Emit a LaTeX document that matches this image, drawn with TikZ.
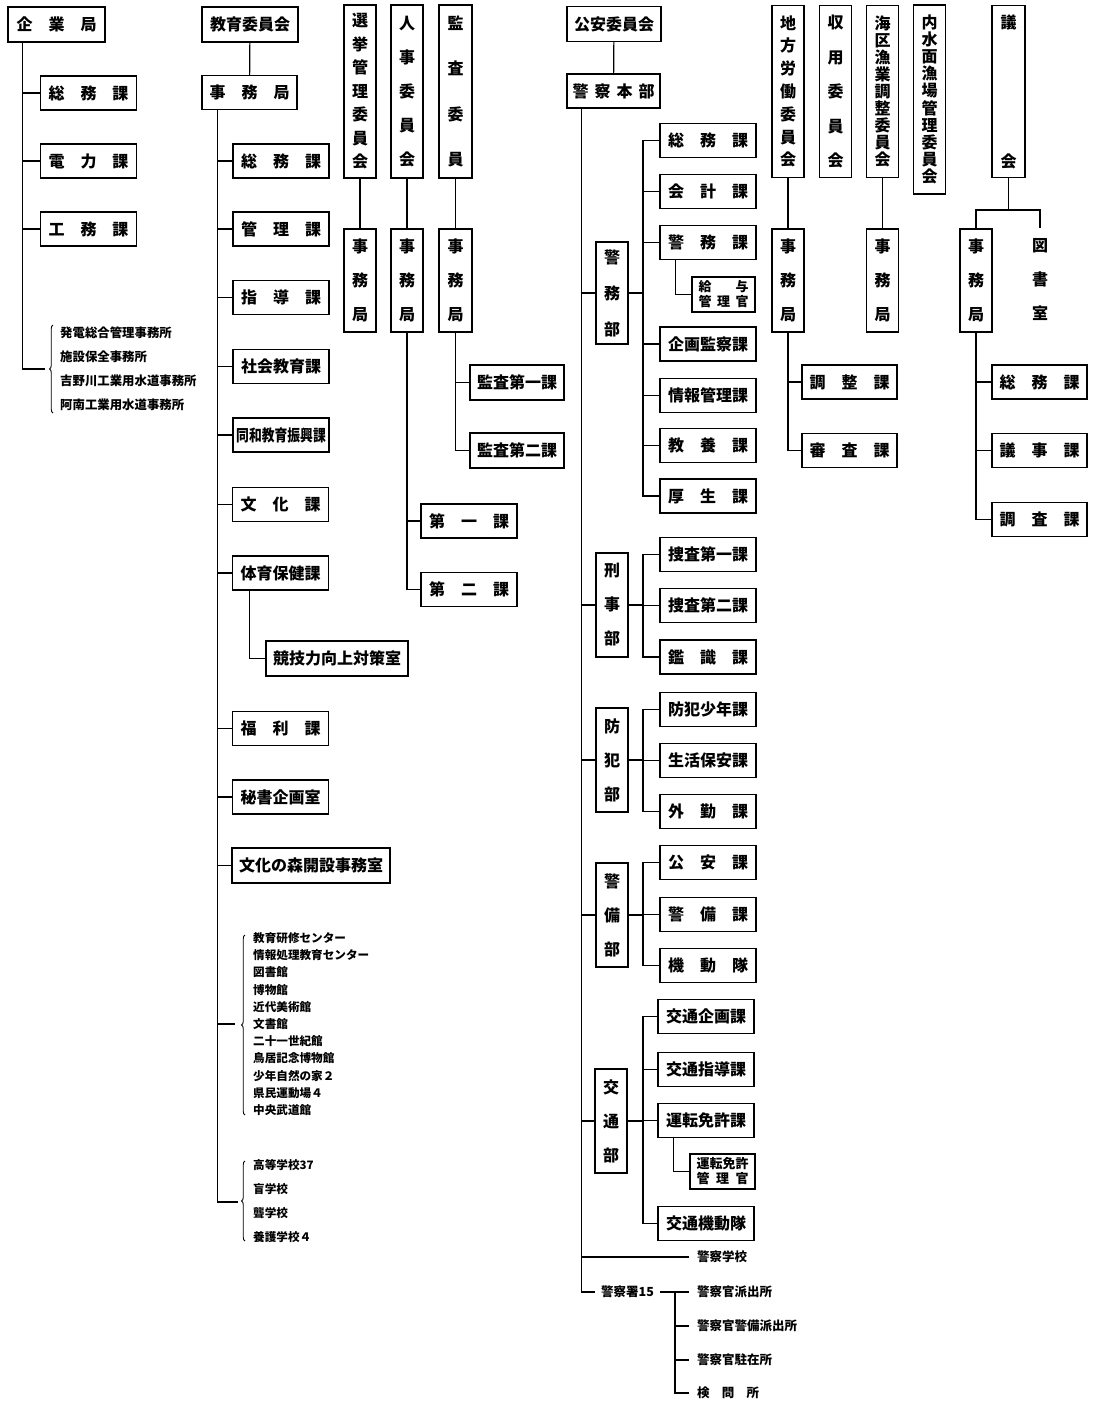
\documentclass[tikz,border=0pt]{standalone}
\usepackage{fontspec}
\setmainfont{Noto Sans CJK JP}
\usepackage{graphicx}
\usetikzlibrary{decorations.pathreplacing}

\newcommand\lbl{\fontsize{16}{18}\selectfont\bfseries}
\newcommand\vt[1]{\fontsize{16}{#1}\selectfont\bfseries}
\newcommand\tri[3]{\makebox[80pt]{#1\hfill#2\hfill#3}}

\tikzset{
  box/.style={draw, line width=1.3pt, minimum width=96pt, minimum height=34pt, inner sep=0pt, font=\lbl},
  vbox/.style={draw, line width=1.3pt, minimum width=32pt, minimum height=103pt, inner sep=0pt, align=center},
  jbox/.style={vbox, font=\vt{34}},
  link/.style={line width=1.2pt},
  leaf/.style={anchor=west, inner xsep=8pt, inner ysep=1pt, font=\fontsize{12.5}{14}\selectfont\bfseries},
  list/.style={anchor=west, inner sep=0pt, align=left},
  bracket/.style={line width=0.9pt, decorate, decoration={brace, amplitude=3.5pt}},
}

\begin{document}
\begin{tikzpicture}[x=1pt, y=-1pt]
  \fill[white] (0,0) rectangle (1095,1403);
  \useasboundingbox (0,0) rectangle (1095,1403);

  %% 企業局
  \node[box, minimum width=97pt, minimum height=35pt] (kigyo) at (56.5,24.5) {\tri{企}{業}{局}};
  \node[box] (ksomu) at (88.5,93) {\tri{総}{務}{課}};
  \node[box] (kden) at (88.5,161) {\tri{電}{力}{課}};
  \node[box] (kkou) at (88.5,229) {\tri{工}{務}{課}};
  \node[list, font=\fontsize{12.4}{24}\selectfont\bfseries] (kjimusho) at (60,369)
    {発電総合管理事務所\\施設保全事務所\\吉野川工業用水道事務所\\阿南工業用水道事務所};
  \coordinate (kbr) at (45,369);
  \draw[bracket] (53,413) -- (53,325);
  \foreach \n in {ksomu,kden,kkou}
    \draw[link] ([xshift=15pt]kigyo.south west) |- (\n.west);
  \draw[link] ([xshift=15pt]kigyo.south west) |- (kbr);

  %% 教育委員会
  \node[box, minimum height=35pt] (kyoi) at (250,24.5) {教育委員会};
  \node[box, minimum width=95pt] (ejim) at (249.5,92.5) {\tri{事}{務}{局}};
  \draw[link] (kyoi) -- (ejim);
  \node[box] (esomu) at (281,161) {\tri{総}{務}{課}};
  \node[box] (ekanri) at (281,229) {\tri{管}{理}{課}};
  \node[box] (eshido) at (281,297.5) {\tri{指}{導}{課}};
  \node[box] (eshakai) at (281,366.5) {社会教育課};
  \node[box] (edowa) at (281,435) {\scalebox{0.8}[1]{同和教育振興課}};
  \node[box] (ebunka) at (280.5,504.5) {\tri{文}{化}{課}};
  \node[box] (etaiiku) at (280.5,573) {体育保健課};
  \node[box, minimum width=142pt, minimum height=35pt] (ekyogi) at (337,658.5) {競技力向上対策室};
  \node[box] (efukuri) at (280.5,728.5) {\tri{福}{利}{課}};
  \node[box] (ehisho) at (280.5,797) {秘書企画室};
  \node[box, minimum width=158pt, minimum height=35pt] (emori) at (311,865.5) {文化の森開設事務室};
  \node[list, font=\fontsize{11.6}{17.2}\selectfont\bfseries] (eshisetsu) at (253,1024)
    {教育研修センター\\情報処理教育センター\\図書館\\博物館\\近代美術館\\文書館\\二十一世紀館\\鳥居記念博物館\\少年自然の家２\\県民運動場４\\中央武道館};
  \node[list, font=\fontsize{11.6}{24}\selectfont\bfseries] (egakko) at (253,1201)
    {高等学校37\\盲学校\\聾学校\\養護学校４};
  \coordinate (ebr1) at (235,1024);
  \coordinate (ebr2) at (238,1202);
  \draw[bracket] (245,1115) -- (245,935);
  \draw[bracket] (245,1241) -- (245,1161);
  \foreach \n in {esomu,ekanri,eshido,eshakai,edowa,ebunka,etaiiku,efukuri,ehisho,emori}
    \draw[link] ([xshift=16pt]ejim.south west) |- (\n.west);
  \foreach \c in {ebr1,ebr2}
    \draw[link] ([xshift=16pt]ejim.south west) |- (\c);
  \draw[link] ([xshift=18pt]etaiiku.south west) |- (ekyogi.west);

  %% 選挙管理・人事・監査
  \node[vbox, minimum height=173pt, font=\vt{23.5}] (senkyo) at (360,91.5) {選\\挙\\管\\理\\委\\員\\会};
  \node[jbox] (sjim) at (360,280.5) {事\\務\\局};
  \draw[link] (senkyo) -- (sjim);

  \node[vbox, minimum height=173pt, font=\vt{34}] (jinji) at (407,91.5) {人\\事\\委\\員\\会};
  \node[jbox] (jjim) at (407,280.5) {事\\務\\局};
  \draw[link] (jinji) -- (jjim);
  \node[box] (jdai1) at (469,521) {\tri{第}{一}{課}};
  \node[box] (jdai2) at (469,589.5) {\tri{第}{二}{課}};
  \foreach \n in {jdai1,jdai2}
    \draw[link] (jjim.south) |- (\n.west);

  \node[vbox, minimum width=33pt, minimum height=173pt, font=\vt{45.5}] (kansa) at (455.5,91.5) {監\\査\\委\\員};
  \node[jbox, minimum width=33pt] (kajim) at (455.5,280.5) {事\\務\\局};
  \draw[link] (kansa) -- (kajim);
  \node[box, minimum width=94pt, minimum height=35pt] (kadai1) at (517,382.5) {監査第一課};
  \node[box, minimum width=94pt, minimum height=35pt] (kadai2) at (517,450.5) {監査第二課};
  \foreach \n in {kadai1,kadai2}
    \draw[link] (kajim.south) |- (\n.west);

  %% 公安委員会
  \node[box, minimum width=94pt, minimum height=35pt] (kouan) at (614,24) {公安委員会};
  \node[box, minimum width=93pt] (honbu) at (613.5,91) {\makebox[82pt]{警\hfill 察\hfill 本\hfill 部}};
  \draw[link] (kouan) -- (honbu);

  \node[vbox, minimum height=102pt, font=\vt{36}] (keimubu) at (612,293) {警\\務\\部};
  \node[box] (psomu) at (708,140.5) {\tri{総}{務}{課}};
  \node[box] (pkaikei) at (708,191.5) {\tri{会}{計}{課}};
  \node[box] (pkeimu) at (708,242.5) {\tri{警}{務}{課}};
  \node[box, minimum width=63pt, minimum height=35pt, align=center, font=\fontsize{13}{15}\selectfont\bfseries] (kyuyo) at (723.5,294.5)
    {\makebox[50pt]{給\hfill 与}\\\makebox[50pt]{管\hfill 理\hfill 官}};
  \node[box] (pkikaku) at (708,344) {企画監察課};
  \node[box] (pjoho) at (708,395.5) {情報管理課};
  \node[box] (pkyoyo) at (708,445.5) {\tri{教}{養}{課}};
  \node[box] (pkosei) at (708,496) {\tri{厚}{生}{課}};
  \coordinate (pkm) at (643,293);
  \draw[link] (keimubu.east) -- (pkm);
  \foreach \n in {psomu,pkaikei,pkeimu,pkikaku,pjoho,pkyoyo,pkosei}
    \draw[link] (pkm) |- (\n.west);
  \draw[link] ([xshift=16pt]pkeimu.south west) |- (kyuyo.west);

  \node[vbox, minimum height=104pt, font=\vt{34}] (keijibu) at (612,605) {刑\\事\\部};
  \node[box] (psousa1) at (708,554.5) {捜査第一課};
  \node[box] (psousa2) at (708,605.5) {捜査第二課};
  \node[box] (pkanshiki) at (708,657) {\tri{鑑}{識}{課}};
  \coordinate (pkj) at (643,605);
  \draw[link] (keijibu.east) -- (pkj);
  \foreach \n in {psousa1,psousa2,pkanshiki}
    \draw[link] (pkj) |- (\n.west);

  \node[vbox, minimum height=104pt, font=\vt{34}] (bouhanbu) at (612,760) {防\\犯\\部};
  \node[box] (pshonen) at (708,709.5) {防犯少年課};
  \node[box] (pseikatsu) at (708,760.5) {生活保安課};
  \node[box] (pgaikin) at (708,811.5) {\tri{外}{勤}{課}};
  \coordinate (pbh) at (643,760);
  \draw[link] (bouhanbu.east) -- (pbh);
  \foreach \n in {pshonen,pseikatsu,pgaikin}
    \draw[link] (pbh) |- (\n.west);

  \node[vbox, minimum height=104pt, font=\vt{34}] (keibibu) at (612,915) {警\\備\\部};
  \node[box] (pkouan) at (708,862.5) {\tri{公}{安}{課}};
  \node[box] (pkeibi) at (708,914.5) {\tri{警}{備}{課}};
  \node[box] (pkidou) at (708,965.5) {\tri{機}{動}{隊}};
  \coordinate (pkb) at (643,915);
  \draw[link] (keibibu.east) -- (pkb);
  \foreach \n in {pkouan,pkeibi,pkidou}
    \draw[link] (pkb) |- (\n.west);

  \node[vbox, minimum height=104pt, font=\vt{34}] (koutsubu) at (611,1121) {交\\通\\部};
  \node[box] (tkikaku) at (706,1016.5) {交通企画課};
  \node[box] (tshido) at (706,1069.5) {交通指導課};
  \node[box] (tmenkyo) at (706,1120.5) {運転免許課};
  \node[box, minimum width=65pt, minimum height=35pt, align=center, font=\fontsize{13}{15}\selectfont\bfseries] (tkanri) at (722.5,1171.5)
    {運転免許\\\makebox[52pt]{管\hfill 理\hfill 官}};
  \node[box] (tkidou) at (706,1223.5) {交通機動隊};
  \coordinate (pkt) at (643,1121);
  \draw[link] (koutsubu.east) -- (pkt);
  \foreach \n in {tkikaku,tshido,tmenkyo,tkidou}
    \draw[link] (pkt) |- (\n.west);
  \draw[link] ([xshift=16pt]tmenkyo.south west) |- (tkanri.west);

  \node[leaf] (gakko) at (689,1257) {警察学校};
  \node[leaf, inner xsep=6pt] (sho) at (595,1292) {警察署15};
  \node[leaf] (hashutsu) at (689,1292) {警察官派出所};
  \node[leaf] (keibihashutsu) at (689,1326) {警察官警備派出所};
  \node[leaf] (chuzai) at (689,1360) {警察官駐在所};
  \node[leaf] (kenmon) at (689,1393) {\makebox[62pt]{検\hfill 問\hfill 所}};
  \foreach \n in {keimubu,keijibu,bouhanbu,keibibu,koutsubu,gakko,sho}
    \draw[link] ([xshift=15pt]honbu.south west) |- (\n.west);
  \coordinate (shoT) at (675,1292);
  \draw[link] (sho.east) -- (hashutsu.west);
  \foreach \n in {keibihashutsu,chuzai,kenmon}
    \draw[link] (shoT) |- (\n.west);

  %% 行政委員会（右側）
  \node[vbox, minimum height=172pt, font=\vt{22.8}] (chiho) at (788,91.5) {地\\方\\労\\働\\委\\員\\会};
  \node[jbox] (cjim) at (788,280.5) {事\\務\\局};
  \draw[link] (chiho) -- (cjim);
  \node[box, minimum width=95pt] (cchosei) at (849.5,382) {\tri{調}{整}{課}};
  \node[box, minimum width=95pt] (cshinsa) at (849.5,450.5) {\tri{審}{査}{課}};
  \foreach \n in {cchosei,cshinsa}
    \draw[link] (cjim.south) |- (\n.west);

  \node[vbox, minimum height=172pt, font=\vt{34.5}] (shuyo) at (835.5,91.5) {収\\用\\委\\員\\会};

  \node[vbox, minimum height=172pt, font=\vt{16.9}] (kaiku) at (882.5,91.5) {海\\区\\漁\\業\\調\\整\\委\\員\\会};
  \node[jbox] (kkjim) at (882.5,280.5) {事\\務\\局};
  \draw[link] (kaiku) -- (kkjim);

  \node[vbox, minimum height=189pt, font=\vt{17.2}] (naisui) at (929.5,99.5) {内\\水\\面\\漁\\場\\管\\理\\委\\員\\会};

  %% 議会
  \node[vbox, minimum width=33pt, minimum height=172pt, font=\vt{139}] (gikai) at (1008.5,91.5) {議\\会};
  \node[jbox] (gjim) at (976,280.5) {事\\務\\局};
  \node[jbox, draw=none] (tosho) at (1040,280) {図\\書\\室};
  \coordinate (gkJ) at (1008.5,210);
  \draw[link] (gikai) -- (gkJ);
  \draw[link] (gjim.north) |- (gkJ) -| (tosho.north);
  \node[box, minimum width=95pt] (gsomu) at (1039.5,382) {\tri{総}{務}{課}};
  \node[box, minimum width=95pt] (ggiji) at (1039.5,450.5) {\tri{議}{事}{課}};
  \node[box, minimum width=95pt] (gchosa) at (1039.5,519.5) {\tri{調}{査}{課}};
  \foreach \n in {gsomu,ggiji,gchosa}
    \draw[link] (gjim.south) |- (\n.west);
\end{tikzpicture}
\end{document}
